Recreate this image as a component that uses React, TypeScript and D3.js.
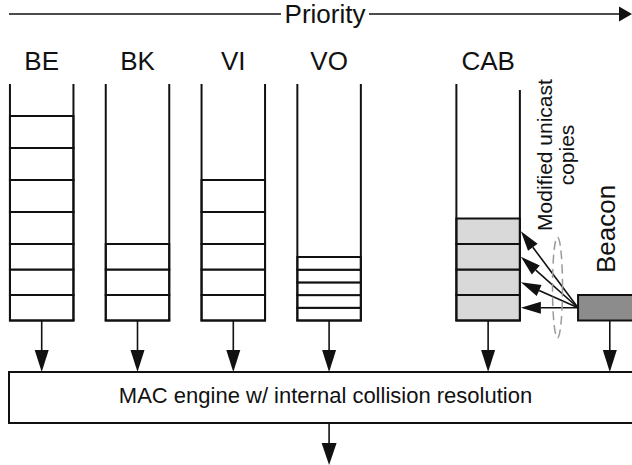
import React from "react";
import * as d3 from "d3";

// ---- data ----
const queueNames = ["BE", "BK", "VI", "VO", "CAB"];
const queueSlots = [0, 1, 2, 3, 4.66];
// frame sizes stacked from the bottom of each queue (queue units)
const queueFrames: number[][] = [
  [25.5, 25.5, 25.5, 32, 32, 32, 32],
  [25.5, 25.5, 25.5],
  [25.5, 25.5, 25.5, 32, 32],
  [12.7, 12.7, 12.7, 12.7, 12.7],
  [25.5, 25.5, 25.5, 25.5],
];
const queueFilled = [false, false, false, false, true];
const beaconSlot = 5.93;
const beaconFrame = 25.5;
const queueCapacity = 236.5;
const priorityLabel = "Priority";
const engineLabel = "MAC engine w/ internal collision resolution";
const copiesLabel = ["Modified unicast", "copies"];
const beaconLabel = "Beacon";

const W = 632;
const H = 465;
const FONT = "'Liberation Sans', Arial, Helvetica, sans-serif";
const INK = "#111";

const xSlot = d3.scaleLinear().domain([0, 1]).range([41.7, 137.5]);
const yQ = d3.scaleLinear().domain([0, queueCapacity]).range([320.5, 84]);
const QW = 63.5;

function Arrow({ x1, y1, x2, y2, len, wid, sw = 1.6, color = INK }: any) {
  const dx = x2 - x1, dy = y2 - y1;
  const d = Math.hypot(dx, dy);
  const ux = dx / d, uy = dy / d;
  const bx = x2 - ux * len, by = y2 - uy * len;
  const px = -uy * wid / 2, py = ux * wid / 2;
  return (
    <g>
      <line x1={x1} y1={y1} x2={bx} y2={by} stroke={color} strokeWidth={sw} />
      <polygon points={`${x2},${y2} ${bx + px},${by + py} ${bx - px},${by - py}`} fill={color} />
    </g>
  );
}

export default function App() {
  const engineTop = 372, engineBottom = 423;
  const bottom = yQ(0);
  const cabIdx = 4;
  const cabRight = xSlot(queueSlots[cabIdx]) + QW / 2;
  const beaconCx = xSlot(beaconSlot);
  const beaconLeft = beaconCx - QW / 2;
  const beaconMidY = yQ(beaconFrame / 2);
  // CAB cell centres
  const cabCentres: number[] = [];
  {
    let acc = 0;
    for (const f of queueFrames[cabIdx]) { cabCentres.push(yQ(acc + f / 2)); acc += f; }
  }
  return (
    <svg width={W} height={H} style={{ position: "absolute", left: 0, top: 0, background: "#fff" }} fontFamily={FONT}>
      <rect x={0} y={0} width={W} height={H} fill="#fff" />
      {/* Priority axis */}
      <line x1={9} y1={14} x2={281} y2={14} stroke={INK} strokeWidth={1.6} />
      <Arrow x1={369} y1={14} x2={632} y2={14} len={13} wid={15} />
      <text x={325} y={22.6} fontSize={26} textAnchor="middle" fill={INK}>{priorityLabel}</text>

      {queueNames.map((name, i) => {
        const cx = xSlot(queueSlots[i]);
        const x0 = cx - QW / 2;
        let acc = 0;
        const cells = queueFrames[i].map((f, j) => {
          const yb = yQ(acc), yt = yQ(acc + f);
          acc += f;
          return (
            <rect key={j} x={x0} y={yt} width={QW} height={yb - yt}
              fill={queueFilled[i] ? "#d9d9d9" : "#fff"} stroke={INK} strokeWidth={2} />
          );
        });
        return (
          <g key={name}>
            <text x={cx} y={70} fontSize={26} textAnchor="middle" fill={INK}>{name}</text>
            {cells}
            <line x1={x0} y1={yQ(queueCapacity)} x2={x0} y2={bottom} stroke={INK} strokeWidth={2} />
            <line x1={x0 + QW} y1={yQ(queueCapacity) + (i === cabIdx ? 6 : 0)} x2={x0 + QW} y2={bottom} stroke={INK} strokeWidth={2} />
            <line x1={x0 - 1} y1={bottom} x2={x0 + QW + 1} y2={bottom} stroke={INK} strokeWidth={2} />
            <Arrow x1={cx} y1={bottom} x2={cx} y2={engineTop} len={22} wid={14} />
          </g>
        );
      })}

      {/* Beacon */}
      <rect x={beaconLeft} y={yQ(beaconFrame)} width={QW} height={bottom - yQ(beaconFrame)} fill="#8c8c8c" stroke={INK} strokeWidth={2} />
      <Arrow x1={beaconCx} y1={bottom} x2={beaconCx} y2={engineTop} len={22} wid={14} />
      <text transform={`translate(615,229) rotate(-90)`} fontSize={26} textAnchor="middle" fill={INK}>{beaconLabel}</text>

      {/* copies */}
      {cabCentres.map((y, k) => (
        <Arrow key={k} x1={beaconLeft} y1={beaconMidY} x2={cabRight + 1} y2={y} len={20} wid={12} />
      ))}
      <ellipse cx={557.5} cy={287.5} rx={5} ry={50.5} fill="none" stroke="#9a9a9a" strokeWidth={1.5} strokeDasharray="9 5" />
      {copiesLabel.map((t, k) => (
        <text key={t} transform={`translate(${551.5 + k * 22.5},155) rotate(-90)`} fontSize={21} textAnchor="middle" fill={INK}>{t}</text>
      ))}

      {/* MAC engine */}
      <rect x={9} y={engineTop} width={640} height={engineBottom - engineTop} fill="#fff" stroke={INK} strokeWidth={2} />
      <text x={325.5} y={403} fontSize={22} textAnchor="middle" fill={INK}>{engineLabel}</text>
      <Arrow x1={xSlot(queueSlots[3])} y1={engineBottom} x2={xSlot(queueSlots[3])} y2={465} len={22} wid={15} />
    </svg>
  );
}
